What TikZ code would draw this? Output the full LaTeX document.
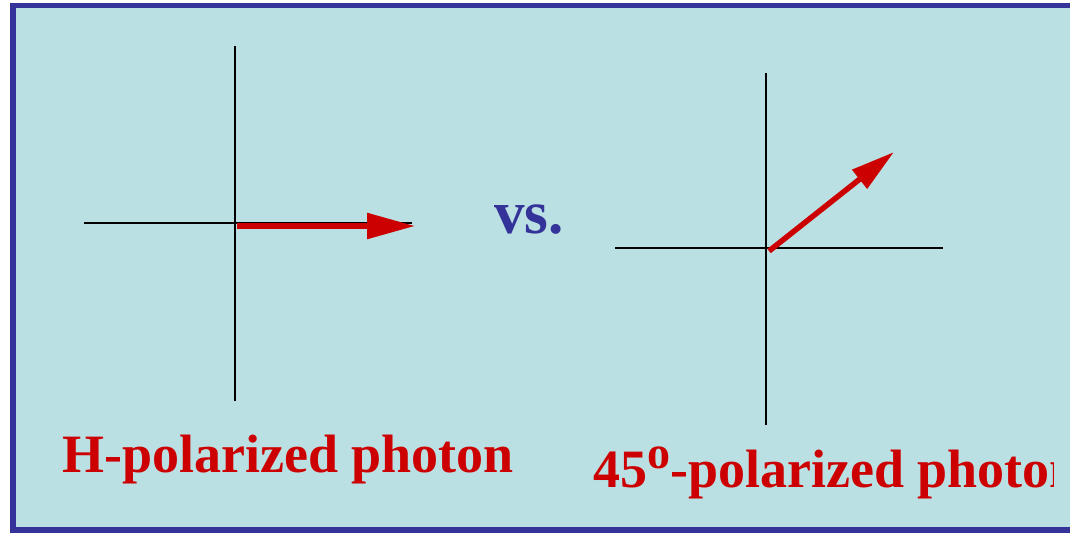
\documentclass[tikz,border=0pt]{standalone}
\usepackage{fontspec}
\setmainfont{Liberation Serif}
\usetikzlibrary{arrows.meta}
\definecolor{bgcyan}{HTML}{BBE0E3}
\definecolor{framebl}{HTML}{333399}
\definecolor{pred}{HTML}{CC0000}
\tikzset{
  axis/.style={draw=black, line width=2.7pt},
  pol/.style={draw=pred, line width=5.5pt},
  lbl/.style={text=pred, font=\bfseries\fontsize{54}{60}\selectfont, anchor=base west, inner sep=0pt},
  vslbl/.style={text=framebl, font=\bfseries\fontsize{61}{66}\selectfont, anchor=base west, inner sep=0pt}
}
\begin{document}
\begin{tikzpicture}[x=1pt,y=-1pt]
\useasboundingbox (0,0) rectangle (1070,533);
\clip (0,0) rectangle (1070,533);
\fill[bgcyan] (13,5.5) rectangle (1080,530);
\draw[framebl, line width=5.5pt] (1080,5.5) -- (13,5.5) -- (13,530) -- (1080,530);
% left axes
\coordinate (lx1) at (84,223);
\coordinate (lx2) at (412,223);
\coordinate (ly1) at (235,46);
\coordinate (ly2) at (235,401);
\draw[axis] (lx1) -- (lx2);
\draw[axis] (ly1) -- (ly2);
\coordinate (la0) at (237,226);
\coordinate (la1) at (415,226);
\draw[pol, -{Triangle[length=48pt,width=25pt]}] (la0) -- (la1);
% right axes
\coordinate (rx1) at (615,248);
\coordinate (rx2) at (943,248);
\coordinate (ry1) at (766,73);
\coordinate (ry2) at (766,425);
\draw[axis] (rx1) -- (rx2);
\draw[axis] (ry1) -- (ry2);
\coordinate (ra0) at (769,251);
\coordinate (ra1) at (894,152);
\draw[pol, -{Triangle[length=44pt,width=23pt]}] (ra0) -- (ra1);
% labels
\node[lbl] (hlab) at (62,472) {H-polarized photon};
\node[vslbl] (vs) at (494,233) {vs.};
\begin{scope}
\clip (560,420) rectangle (1053,520);
\node[lbl] (dlab) at (593,487) {45\raisebox{19pt}{\fontsize{46}{48}\selectfont o}-polarized photon};
\end{scope}
\end{tikzpicture}
\end{document}
